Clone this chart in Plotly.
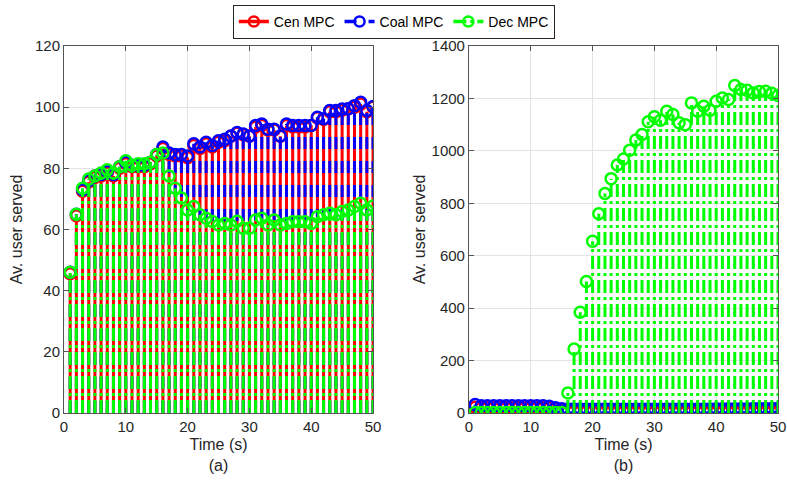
import plotly.graph_objects as go
from plotly.subplots import make_subplots

t = list(range(1, 51))

# ---- (a) values ----
cen_a = [45.5, 64.5, 72.5, 75.5, 77, 77.5, 78.5, 77.5, 80, 81.5,
         80.5, 80.5, 80.5, 81.5, 84, 86.5, 84.5, 84, 84, 83.5,
         87.5, 86.5, 88, 87, 88.5, 89, 90.5, 91.5, 91, 90.5,
         93.5, 94, 92.5, 92.5, 90.5, 94, 93.5, 93.5, 93.5, 94,
         96.5, 96, 98.5, 98.5, 99, 99.5, 100, 101, 98.5, 100]
coal_a = [46, 65, 73, 76, 77.5, 78, 79, 78, 80.5, 82,
          81, 81, 81, 82, 84.5, 87, 85, 84.5, 84.5, 84,
          88, 87, 88.5, 87.5, 89, 89.5, 90.6, 91.7, 91.2, 90.6,
          94, 94.5, 92.8, 92.8, 90.6, 94.5, 94, 94, 94, 94,
          96.7, 96.2, 98.9, 98.9, 99.4, 99.5, 100.5, 101.6, 98.9, 100.2]
dec_a = [46, 65, 73.5, 76.5, 77.5, 78.5, 79.5, 78.5, 80.5, 82.5,
         81, 81.5, 81.5, 82, 84.5, 85, 77.5, 73.5, 70.3, 66.4,
         67.5, 64.8, 63.7, 62.6, 61.5, 62, 61.5, 62.7, 60.4, 60.4,
         63.1, 63.7, 61.5, 63.1, 61.5, 62, 62.5, 62.5, 62.5, 62,
         64.2, 64.8, 65.3, 64.8, 65.9, 66.4, 67.5, 68.6, 66.4, 67.7]

# ---- (b) values ----
cen_b = [22, 21, 21, 21, 21, 21, 21, 21, 21, 21,
         21, 21, 20, 16, 12, 8, 7, 7, 6, 6,
         6, 6, 5, 5, 5, 5, 5, 5, 5, 5,
         5, 5, 5, 5, 5, 5, 5, 5, 5, 5,
         5, 5, 5, 5, 5, 5, 5, 5, 5, 6]
coal_b = [32, 28, 28, 28, 28, 28, 28, 28, 28, 28,
          28, 28, 26, 20, 16, 15, 15, 15, 15, 15,
          15, 15, 15, 15, 15, 15, 15, 15, 15, 15,
          15, 15, 15, 15, 15, 15, 15, 15, 15, 16,
          16, 16, 16, 16, 16, 17, 17, 17, 17, 18]
dec_b = [2, 2, 2, 2, 2, 2, 2, 2, 2, 2,
         2, 2, 2, 2, 2, 76, 244, 384, 502, 655,
         760, 837, 894, 946, 969, 1002, 1041, 1062, 1111, 1130,
         1117, 1151, 1139, 1107, 1100, 1183, 1151, 1170, 1155, 1189,
         1202, 1196, 1249, 1234, 1231, 1221, 1226, 1227, 1220, 1211]

names = ["Cen MPC", "Coal MPC", "Dec MPC"]
colors = ["#ff0000", "#0000ff", "#00ff00"]
dashes = ["solid", "12px,12px", "13px,4px,3px,4px"]

fig = make_subplots(rows=1, cols=2, horizontal_spacing=0.1344)

for col, series in ((1, [cen_a, coal_a, dec_a]), (2, [cen_b, coal_b, dec_b])):
    for i, ys in enumerate(series):
        # one trace per stem so every dash pattern starts at the baseline
        for x, y in zip(t, ys):
            fig.add_trace(go.Scatter(x=[x, x], y=[0, y], mode="lines",
                                     line=dict(color=colors[i], width=3, dash=dashes[i]),
                                     showlegend=False, hoverinfo="skip"), row=1, col=col)
        fig.add_trace(go.Scatter(x=t, y=ys, mode="markers",
                                 marker=dict(symbol="circle-open", size=11, color=colors[i],
                                             line=dict(width=2.5, color=colors[i])),
                                 showlegend=False), row=1, col=col)

for i in range(3):
    fig.add_trace(go.Scatter(x=[None], y=[None], mode="lines+markers", name=names[i],
                             line=dict(color=colors[i], width=3.5, dash=dashes[i]),
                             marker=dict(symbol="circle-open", size=10, color=colors[i],
                                         line=dict(width=2.5, color=colors[i]))),
                  row=1, col=1)

axis_common = dict(showline=True, linecolor="#555555", linewidth=1, mirror="allticks",
                   ticks="inside", ticklen=5, tickcolor="#555555",
                   showgrid=True, gridcolor="#e3e3e3", gridwidth=1, zeroline=False,
                   automargin=False,
                   tickfont=dict(size=15, color="#262626"))

fig.update_xaxes(range=[0, 50], dtick=10, **axis_common)
fig.update_xaxes(title=dict(text="Time (s)<br>(a)", font=dict(size=16, color="#262626"), standoff=4), row=1, col=1)
fig.update_xaxes(title=dict(text="Time (s)<br>(b)", font=dict(size=16, color="#262626"), standoff=4), row=1, col=2)
fig.update_yaxes(**axis_common)
fig.update_yaxes(range=[0, 120], dtick=20, row=1, col=1,
                 title=dict(text="Av. user served", font=dict(size=16, color="#262626"), standoff=8))
fig.update_yaxes(range=[0, 1400], dtick=200, row=1, col=2,
                 title=dict(text="Av. user served", font=dict(size=16, color="#262626"), standoff=2))

fig.update_layout(
    width=787, height=486,
    margin=dict(l=64, r=9, t=46, b=73, autoexpand=False),
    paper_bgcolor="white", plot_bgcolor="white",
    font=dict(family="Liberation Sans, Arial, sans-serif", color="#262626"),
    legend=dict(orientation="h", x=0.462, xanchor="center", y=0.99, yanchor="top",
                yref="container", bordercolor="#262626", borderwidth=1,
                font=dict(size=14, color="#000000"), bgcolor="white",
                itemwidth=30, tracegroupgap=0),
)

fig.write_html("out.html", config={"displayModeBar": False},
               post_script="document.body.style.margin='0';")
